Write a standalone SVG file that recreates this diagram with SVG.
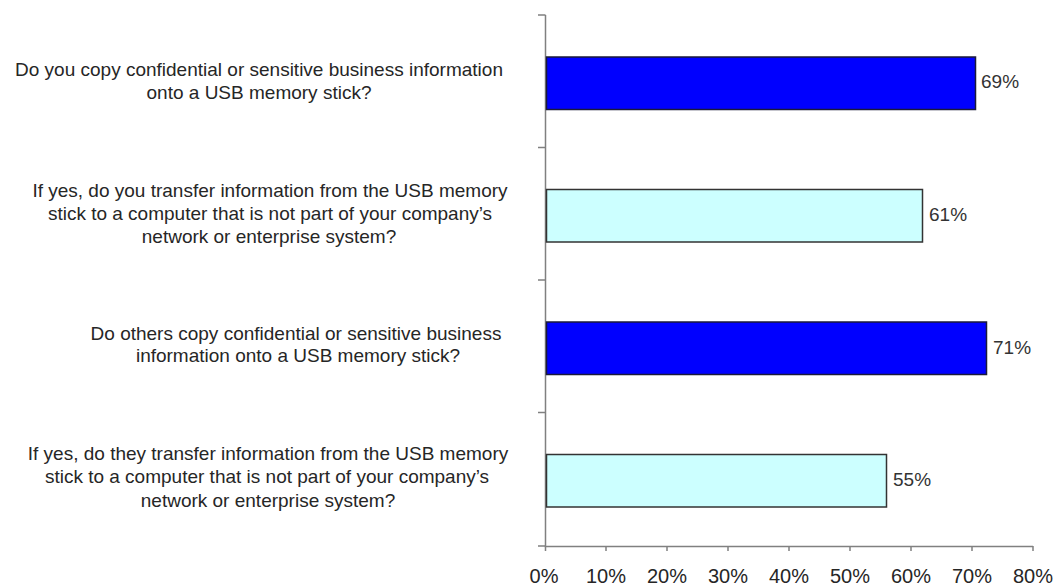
<svg xmlns="http://www.w3.org/2000/svg" width="1060" height="585" viewBox="0 0 1060 585">
<style>
.lbl{font-family:"Liberation Sans",Arial,sans-serif;font-size:19px;fill:#262626;text-anchor:middle}
.val{font-family:"Liberation Sans",Arial,sans-serif;font-size:19px;fill:#333}
.ax{font-family:"Liberation Sans",Arial,sans-serif;font-size:20px;fill:#262626;text-anchor:middle}
.dark{fill:#0000FF;stroke:#1a1a3a;stroke-width:1.5}
.light{fill:#CCFFFF;stroke:#333;stroke-width:1.5}
.axis{stroke:#808080;stroke-width:1.5;fill:none}
</style>
<rect width="1060" height="585" fill="#fff"/>
<g id="axes">
<path class="axis" d="M545.5 15V546.5H1033"/>
<path class="axis" d="M538 15H545.5M538 147.5H545.5M538 280H545.5M538 412.5H545.5M538 546H545.5"/>
<path class="axis" d="M545.5 546V551M606 546V551M667 546V551M728 546V551M789 546V551M850 546V551M911 546V551M972 546V551M1033 546V551"/>
<text class="ax" x="544" y="583">0%</text>
<text class="ax" x="606" y="583">10%</text>
<text class="ax" x="667" y="583">20%</text>
<text class="ax" x="728" y="583">30%</text>
<text class="ax" x="789" y="583">40%</text>
<text class="ax" x="850" y="583">50%</text>
<text class="ax" x="911" y="583">60%</text>
<text class="ax" x="972" y="583">70%</text>
<text class="ax" x="1033" y="583">80%</text>
</g>
<g id="bar1">
<rect class="dark" x="546.5" y="57" width="429" height="52.5"/>
<text class="val" x="981" y="88">69%</text>
<text class="lbl" x="259" y="76">Do you copy confidential or sensitive business information</text>
<text class="lbl" x="259" y="98.5">onto a USB memory stick?</text>
</g>
<g id="bar2">
<rect class="light" x="546.5" y="189.5" width="376" height="52.5"/>
<text class="val" x="929" y="221">61%</text>
<text class="lbl" x="270" y="196.5">If yes, do you transfer information from the USB memory</text>
<text class="lbl" x="270" y="219.5">stick to a computer that is not part of your company’s</text>
<text class="lbl" x="269" y="242.5">network or enterprise system?</text>
</g>
<g id="bar3">
<rect class="dark" x="546.5" y="322" width="440" height="52.5"/>
<text class="val" x="993" y="354">71%</text>
<text class="lbl" x="296" y="339.5">Do others copy confidential or sensitive business</text>
<text class="lbl" x="298" y="362">information onto a USB memory stick?</text>
</g>
<g id="bar4">
<rect class="light" x="546.5" y="454.5" width="340" height="52.5"/>
<text class="val" x="893" y="486">55%</text>
<text class="lbl" x="268" y="459.5">If yes, do they transfer information from the USB memory</text>
<text class="lbl" x="267" y="483">stick to a computer that is not part of your company’s</text>
<text class="lbl" x="268" y="506.5">network or enterprise system?</text>
</g>
</svg>
